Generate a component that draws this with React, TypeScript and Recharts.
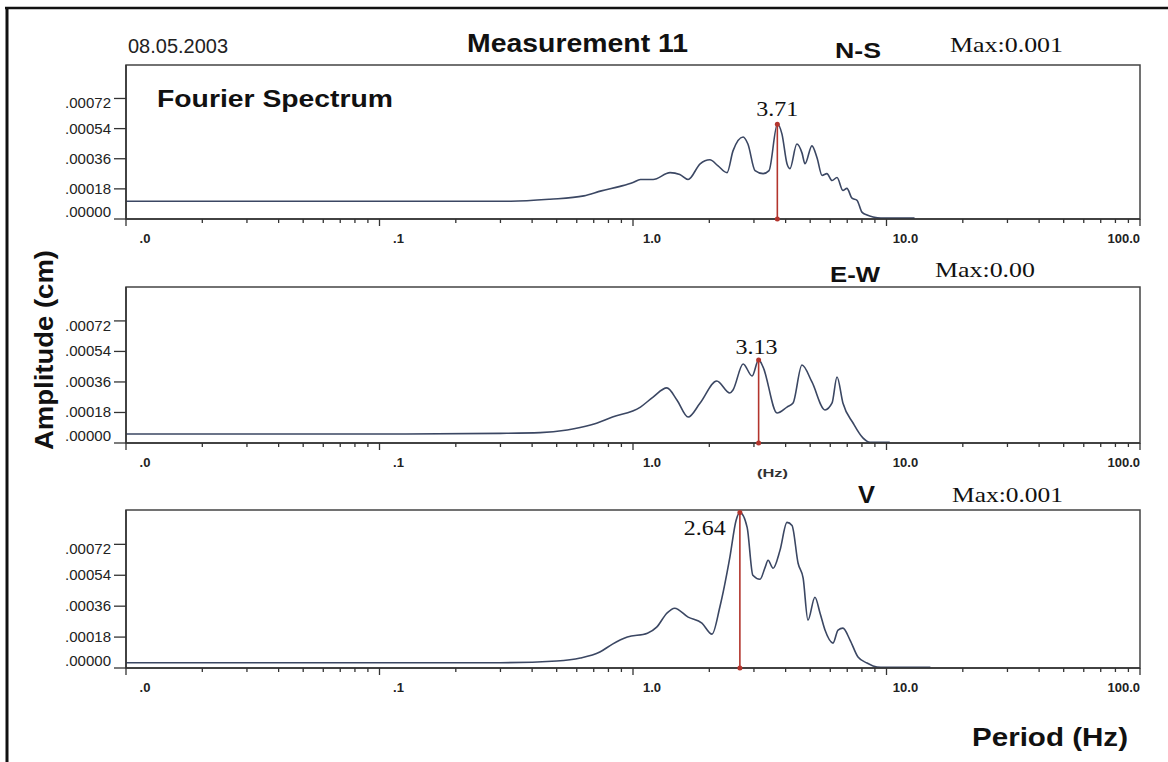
import React from 'react';
import { LineChart, Line, XAxis, YAxis, ReferenceLine, ReferenceDot, ReferenceArea } from 'recharts';

// N-S component (frequency in Hz, amplitude in cm)
const nsFreq = [0.01, 0.33, 0.47, 0.64, 0.75, 0.89, 1.0, 1.07, 1.2, 1.4, 1.53, 1.65, 1.84, 2.01, 2.16, 2.35, 2.48, 2.72, 2.84, 3.03, 3.26, 3.44, 3.71, 3.87, 4.05, 4.16, 4.43, 4.64, 4.77, 5.08, 5.32, 5.57, 5.82, 6.1, 6.38, 6.73, 6.98, 7.31, 7.65, 8.0, 8.38, 8.85, 9.5, 12.9];
const nsAmp = [0.000106, 0.000106, 0.000118, 0.000138, 0.000168, 0.000195, 0.000218, 0.000236, 0.000236, 0.000277, 0.000266, 0.000236, 0.00033, 0.000354, 0.000319, 0.000277, 0.000407, 0.00049, 0.000448, 0.000289, 0.000271, 0.000289, 0.000566, 0.000507, 0.00033, 0.000301, 0.000448, 0.000395, 0.00033, 0.000437, 0.000366, 0.00026, 0.000271, 0.00023, 0.000248, 0.000171, 0.000183, 0.000124, 0.000112, 0.000041, 0.000024, 0.000012, 0.000005, 0.000005];

// E-W component
const ewFreq = [0.01, 0.1, 0.3, 0.43, 0.55, 0.68, 0.83, 1.07, 1.2, 1.36, 1.49, 1.65, 1.84, 2.14, 2.41, 2.48, 2.72, 2.95, 3.13, 3.26, 3.7, 4.05, 4.28, 4.64, 5.08, 5.72, 6.1, 6.38, 6.73, 7.38, 8.07, 8.61, 10.3];
const ewAmp = [0.000053, 0.000053, 0.000057, 0.000061, 0.000077, 0.000106, 0.000153, 0.000212, 0.000271, 0.000325, 0.000254, 0.000153, 0.000236, 0.000366, 0.000295, 0.000313, 0.000466, 0.000395, 0.00049, 0.000448, 0.000177, 0.000212, 0.000236, 0.00046, 0.00036, 0.000195, 0.000236, 0.000389, 0.000236, 0.000118, 0.00003, 0.000004, 0.000004];

// V component
const vFreq = [0.01, 0.3, 0.5, 0.62, 0.74, 0.83, 0.95, 1.14, 1.24, 1.36, 1.46, 1.65, 1.87, 2.05, 2.2, 2.41, 2.55, 2.64, 2.82, 2.97, 3.17, 3.32, 3.41, 3.57, 3.8, 4.05, 4.24, 4.48, 4.69, 4.9, 5.22, 5.47, 5.72, 6.15, 6.44, 6.73, 7.18, 7.72, 8.38, 8.85, 9.5, 14.9];
const vAmp = [0.000031, 0.000031, 0.000041, 0.000058, 0.000093, 0.000139, 0.00018, 0.000203, 0.000238, 0.000319, 0.000348, 0.000296, 0.000261, 0.000197, 0.000354, 0.000644, 0.000859, 0.000906, 0.000819, 0.00054, 0.000517, 0.000586, 0.000627, 0.000581, 0.000685, 0.000848, 0.00083, 0.00061, 0.000523, 0.000279, 0.000412, 0.000319, 0.000221, 0.000145, 0.000221, 0.000232, 0.000163, 0.000064, 0.000029, 0.000012, 0.000004, 0.000004];

// peak picks
const nsPeak = { f: 3.71, a: 0.000566, label: '3.71' };
const ewPeak = { f: 3.13, a: 0.00049, label: '3.13' };
const vPeak = { f: 2.64, a: 0.000906, label: '2.64' };

const yTicks = [0, 0.00018, 0.00036, 0.00054, 0.00072];
const yTickLabels = ['.00000', '.00018', '.00036', '.00054', '.00072'];
const decades = [0.01, 0.1, 1, 10, 100];
const decadeLabels = ['.0', '.1', '1.0', '10.0', '100.0'];
const Y_MAX = 0.00092;

const xTicks: number[] = [];
decades.forEach((d, i) => {
  if (i === decades.length - 1) xTicks.push(d);
  else for (let k = 1; k <= 9; k++) xTicks.push(d * k);
});

const zip = (f: number[], a: number[]) => f.map((v, i) => ({ f: v, a: a[i] }));

const SANS = '"Liberation Sans", Arial, sans-serif';
const SERIF = '"Liberation Serif", "Times New Roman", serif';
const INK = '#222';

const XTick = (props: any) => {
  const { x, y, payload } = props;
  const v = payload.value;
  const lg = Math.log10(v);
  const major = Math.abs(lg - Math.round(lg)) < 1e-6;
  const i = decades.findIndex((d) => Math.abs(d - v) < 1e-9);
  const last = i === decades.length - 1;
  return (
    <g>
      <line x1={x} y1={y} x2={x} y2={y + (major ? 7 : 4)} stroke="#333" strokeWidth={1.3} />
      {i >= 0 && (
        <text
          x={last ? x : x + 19}
          y={y + 24}
          textAnchor={last ? 'end' : 'middle'}
          fontFamily={SANS}
          fontSize={13}
          fontWeight={600}
          fill={INK}
        >
          {decadeLabels[i]}
        </text>
      )}
    </g>
  );
};

const YTick = (props: any) => {
  const { x, y, payload } = props;
  const i = yTicks.findIndex((t) => Math.abs(t - payload.value) < 1e-12);
  const dy = i === 0 ? -2 : i === yTicks.length - 1 ? 10 : 5;
  return (
    <g>
      <line x1={x - 12} y1={y} x2={x} y2={y} stroke="#333" strokeWidth={1.3} />
      <text x={x - 15} y={y + dy} textAnchor="end" fontFamily={SANS} fontSize={14} fill={INK} textLength={46} lengthAdjust="spacingAndGlyphs">
        {i >= 0 ? yTickLabels[i] : ''}
      </text>
    </g>
  );
};

const peakLabel = (text: string, dx: number, dy: number, anchor: string) => (p: any) => {
  const vb = p.viewBox || {};
  const cx = (vb.x || 0) + (vb.width || 0) / 2;
  const cy = (vb.y || 0) + (vb.height || 0) / 2;
  return (
    <text x={cx + dx} y={cy + dy} textAnchor={anchor} fontFamily={SERIF} fontSize={22} fill="#111" textLength={42} lengthAdjust="spacingAndGlyphs">
      {text}
    </text>
  );
};

function Panel({ data, peak, top, marginTop, marginBottom, lbl }: any) {
  return (
    <div style={{ position: 'absolute', left: 0, top }}>
      <LineChart width={1168} height={260} data={data} margin={{ top: marginTop, right: 28, bottom: marginBottom, left: 0 }}>
        <XAxis
          dataKey="f"
          type="number"
          scale="log"
          domain={[0.01, 100]}
          allowDataOverflow
          ticks={xTicks}
          interval={0}
          tick={<XTick />}
          tickLine={false}
          tickSize={0}
          tickMargin={0}
          height={30}
          axisLine={{ stroke: '#333', strokeWidth: 1.5 }}
        />
        <YAxis
          type="number"
          domain={[0, Y_MAX]}
          allowDataOverflow
          ticks={yTicks}
          interval={0}
          tick={<YTick />}
          tickLine={false}
          tickSize={0}
          tickMargin={0}
          width={126}
          axisLine={{ stroke: '#333', strokeWidth: 1.5 }}
        />
        <ReferenceArea x1={0.01} x2={100} y1={0} y2={Y_MAX} fill="none" stroke="#444" strokeWidth={1.5} fillOpacity={0} ifOverflow="visible" />
        <Line type="monotone" dataKey="a" stroke="#3b4763" strokeWidth={1.6} dot={false} isAnimationActive={false} />
        <ReferenceLine segment={[{ x: peak.f, y: 0 }, { x: peak.f, y: peak.a }]} stroke="#b3352d" strokeWidth={1.6} />
        <ReferenceDot x={peak.f} y={0} r={2.5} fill="#b3352d" stroke="none" />
        <ReferenceDot x={peak.f} y={peak.a} r={2.5} fill="#b3352d" stroke="none" label={peakLabel(peak.label, lbl[0], lbl[1], lbl[2])} />
      </LineChart>
    </div>
  );
}

export default function App() {
  const txt = (s: string, x: number, y: number, size: number, len: number, opts: any = {}) => (
    <text x={x} y={y} fontSize={size} textLength={len} lengthAdjust="spacingAndGlyphs" fontFamily={opts.serif ? SERIF : SANS} fontWeight={opts.bold ? 'bold' : 'normal'} fill={opts.fill || '#111'}>
      {s}
    </text>
  );
  return (
    <div style={{ position: 'absolute', left: 0, top: 0, width: 1168, height: 762, background: '#fff', overflow: 'hidden' }}>
      <Panel data={zip(nsFreq, nsAmp)} peak={nsPeak} top={0} marginTop={65} marginBottom={11} lbl={[0, -8, 'middle']} />
      <Panel data={zip(ewFreq, ewAmp)} peak={ewPeak} top={240} marginTop={47} marginBottom={27} lbl={[-2, -6, 'middle']} />
      <Panel data={zip(vFreq, vAmp)} peak={vPeak} top={480} marginTop={30} marginBottom={42} lbl={[-14, 23, 'end']} />
      <svg width={1168} height={762} style={{ position: 'absolute', left: 0, top: 0, pointerEvents: 'none' }}>
        <line x1={7} y1={8} x2={7} y2={762} stroke="#111" strokeWidth={3} />
        <line x1={5} y1={8} x2={1168} y2={8} stroke="#111" strokeWidth={2.5} />
        {txt('08.05.2003', 128, 53, 20, 100, { fill: '#222' })}
        {txt('Measurement 11', 467, 52, 25, 221, { bold: true })}
        {txt('N-S', 835, 58, 22, 46, { bold: true })}
        {txt('Max:0.001', 950, 52, 21, 113, { serif: true })}
        {txt('Fourier Spectrum', 157, 107, 24, 236, { bold: true })}
        {txt('E-W', 830, 282, 22, 50, { bold: true })}
        {txt('Max:0.00', 935, 277, 21, 100, { serif: true })}
        {txt('(Hz)', 757, 477, 11, 31, { bold: true, fill: '#333' })}
        {txt('V', 858, 503, 24, 17, { bold: true })}
        {txt('Max:0.001', 952, 502, 21, 111, { serif: true })}
        {txt('Period  (Hz)', 972, 746, 26, 156, { bold: true })}
        <text
          transform="translate(53,350) rotate(-90)"
          textAnchor="middle"
          fontSize={26}
          fontWeight="bold"
          fontFamily={SANS}
          fill="#111"
          textLength={200}
          lengthAdjust="spacingAndGlyphs"
        >
          Amplitude (cm)
        </text>
      </svg>
    </div>
  );
}
